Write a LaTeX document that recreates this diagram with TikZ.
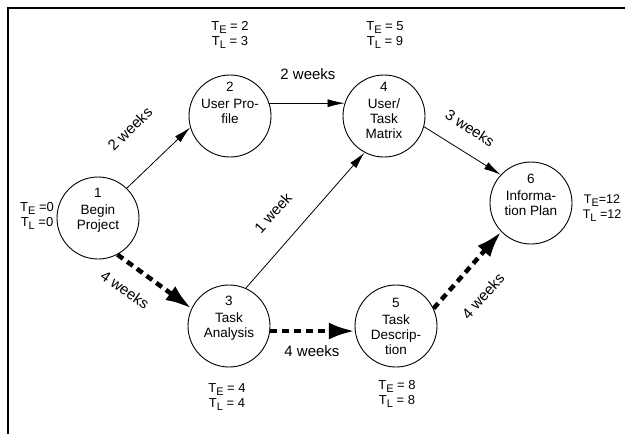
\documentclass[tikz,border=0pt]{standalone}
\usepackage{fontspec}
\setmainfont{Liberation Sans}
\usetikzlibrary{arrows.meta}

\newcommand{\tsub}[1]{T\raisebox{-3.5pt}{\fontsize{11}{11}\selectfont #1}}

\begin{document}
\begin{tikzpicture}[x=1pt,y=-1pt,
  stage/.style={circle,draw,line width=0.9pt,minimum size=82pt,inner sep=0pt},
  stagetext/.style={align=center,font=\fontsize{13.5}{15}\selectfont},
  times/.style={align=center,font=\fontsize{13}{15}\selectfont},
  weeks/.style={font=\fontsize{15}{17}\selectfont},
  slack/.style={line width=0.8pt,-{Latex[length=17pt,width=8pt]}},
  critical/.style={line width=4.5pt,dash pattern=on 7pt off 5pt,-{Latex[length=26pt,width=17pt]}}]
\useasboundingbox (0,0) rectangle (625,434);
\draw[line width=1.5pt] (625,8) -- (8,8) -- (8,434);

% stages
\node[stage] (n1) at (98,218) {};
\node[stage] (n2) at (230,116) {};
\node[stage] (n3) at (229,326) {};
\node[stage] (n4) at (384,116) {};
\node[stage] (n5) at (396,326) {};
\node[stage] (n6) at (531,203) {};
\node[stagetext] (t1) at (98,210) {1\\[2pt]Begin\\Project};
\node[stagetext] (t2) at (230,103) {2\\[2pt]User Pro-\\file};
\node[stagetext] (t3) at (229,318) {3\\[2pt]Task\\Analysis};
\node[stagetext] (t4) at (384,110) {4\\[2pt]User/\\Task\\Matrix};
\node[stagetext] (t5) at (396,326) {5\\[2pt]Task\\Descrip-\\tion};
\node[stagetext] (t6) at (531,195) {6\\[2pt]Informa-\\tion Plan};

% earliest / latest times
\node[times] (tv1) at (37,216) {\tsub{E} =0\\\tsub{L} =0};
\node[times] (tv2) at (230,35) {\tsub{E} = 2\\\tsub{L} = 3};
\node[times] (tv4) at (385,35) {\tsub{E} = 5\\\tsub{L} = 9};
\node[times] (tv3) at (227,397) {\tsub{E} = 4\\\tsub{L} = 4};
\node[times] (tv5) at (397,394) {\tsub{E} = 8\\\tsub{L} = 8};
\node[times,font=\fontsize{12.5}{15}\selectfont] (tv6) at (602,208) {\tsub{E}=12\\\tsub{L} =12};

% activities
\draw[slack] (n1.46) -- (n2.196);
\draw[slack] (n2.18) -- (n4.162);
\draw[slack] (n3.66) -- (n4.242);
\draw[slack] (n4.345) -- (n6.137);
\draw[critical] (n1.298) -- (n3.155);
\draw[critical] (n3.353) -- (n5.187);
\draw[critical] (n5.25) -- (n6.224);

\node[weeks,rotate=44] (l12) at (130,129) {2 weeks};
\node[weeks] (l24) at (308,74) {2 weeks};
\node[weeks,rotate=48] (l34) at (273,213) {1 week};
\node[weeks,rotate=-33] (l46) at (470,128) {3 weeks};
\node[weeks,rotate=-35] (l13) at (125,290) {4 weeks};
\node[weeks] (l35) at (312,351) {4 weeks};
\node[weeks,rotate=48] (l56) at (483,296) {4 weeks};
\end{tikzpicture}
\end{document}
